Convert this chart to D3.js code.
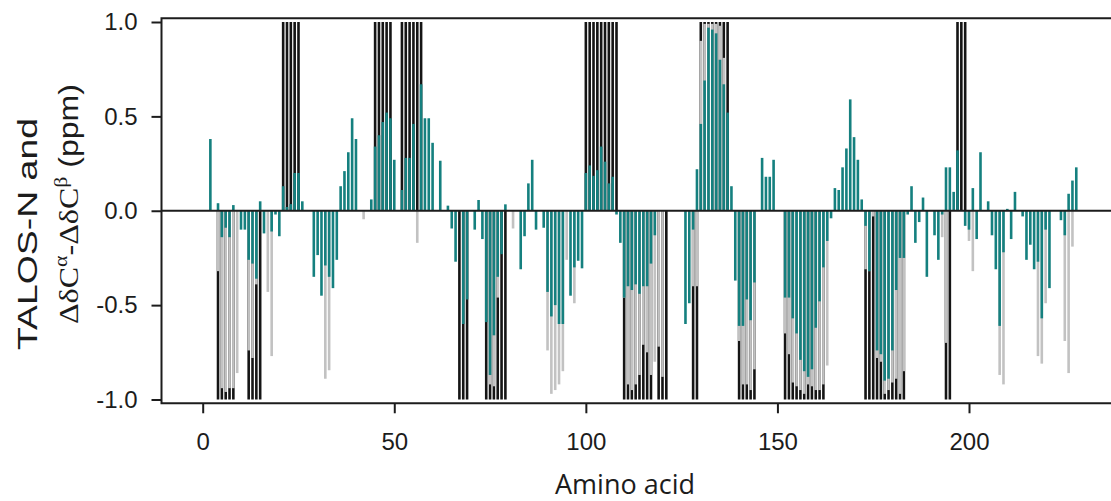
<!DOCTYPE html>
<html><head><meta charset="utf-8">
<script src="https://cdn.jsdelivr.net/npm/d3@7"></script>
<style>body{margin:0;background:#fff}</style>
</head><body><svg id="c" width="1111" height="501"></svg>
<script>
// tick labels
const xTicks = [0, 50, 100, 150, 200];
const yTicks = [1.0, 0.5, 0.0, -0.5, -1.0];

// TALOS-N secondary structure assignment (residue, +1 helix / -1 strand) -- black
const structure = [
 [4,-1],[5,-1],[6,-1],[7,-1],[8,-1],[12,-1],[13,-1],[14,-1],[15,-1],
 [21,1],[22,1],[23,1],[24,1],[25,1],
 [45,1],[46,1],[47,1],[48,1],[49,1],
 [52,1],[53,1],[54,1],[55,1],[56,1],[57,1],
 [67,-1],[68,-1],[69,-1],
 [74,-1],[75,-1],[76,-1],[77,-1],[78,-1],[79,-1],
 [100,1],[101,1],[102,1],[103,1],[104,1],[105,1],[106,1],[107,1],[108,1],
 [110,-1],[111,-1],[112,-1],[113,-1],[114,-1],[115,-1],[116,-1],[117,-1],
 [119,-1],[120,-1],[121,-1],
 [128,-1],[129,-1],
 [130,1],[131,1],[132,1],[133,1],[134,1],[135,1],[136,1],[137,1],
 [140,-1],[141,-1],[142,-1],[143,-1],[144,-1],
 [152,-1],[153,-1],[154,-1],[155,-1],[156,-1],[157,-1],[158,-1],[159,-1],[160,-1],[161,-1],[162,-1],
 [173,-1],[174,-1],[175,-1],[176,-1],[177,-1],[178,-1],[179,-1],[180,-1],[181,-1],[182,-1],[183,-1],
 [194,-1],[195,-1],
 [197,1],[198,1],[199,1]
];

// TALOS-N probability values -- light gray
const talosN = [
 [4,-0.32],[5,-0.94],[6,-0.96],[7,-0.94],[8,-0.94],[9,-0.86],[12,-0.74],[13,-0.78],[14,-0.39],
 [17,-0.43],[18,-0.77],[32,-0.89],[33,-0.845],[42,-0.045],[56,-0.17],
 [75,-0.92],[76,-0.93],[77,-0.46],[81,-0.094],
 [90,-0.74],[91,-0.97],[92,-0.95],[93,-0.92],[94,-0.85],[95,-0.26],[97,-0.49],
 [110,-0.46],[111,-0.92],[112,-0.95],[113,-0.92],[114,-0.87],[115,-0.71],[116,-0.75],[117,-0.87],
 [118,-0.80],[119,-0.72],[120,-0.88],[128,-0.40],[129,-0.40],
 [130,0.90],[131,0.99],[132,0.99],[133,0.99],[134,0.99],[135,0.98],[136,0.81],
 [140,-0.69],[141,-0.92],[142,-0.92],[143,-0.95],[144,-0.84],
 [152,-0.65],[153,-0.76],[154,-0.91],[155,-0.93],[156,-0.95],[157,-0.97],[158,-0.92],[159,-0.93],
 [160,-0.95],[161,-0.95],[162,-0.92],[163,-0.82],
 [173,-0.31],[174,-0.32],[175,-0.03],[176,-0.78],[177,-0.80],[178,-0.97],[179,-0.95],[180,-0.91],
 [181,-0.89],[182,-0.97],[183,-0.85],
 [193,-0.14],[194,-0.70],[200,-0.16],[201,-0.32],[208,-0.87],[209,-0.92],
 [218,-0.77],[219,-0.81],[220,-0.49],[225,-0.69],[226,-0.86],[227,-0.19]
];

// secondary chemical shift difference (ppm) -- teal
const shiftDiff = [
 [2,0.38],[4,0.04],[5,-0.14],[6,-0.09],[7,-0.14],[8,0.03],[10,-0.10],[11,-0.10],[12,-0.26],[13,-0.28],
 [14,-0.36],[15,0.05],[16,-0.12],[18,-0.11],[19,-0.02],[20,-0.135],[21,0.13],[22,0.02],[23,0.035],
 [24,0.20],[25,0.20],[26,0.05],[29,-0.35],[30,-0.235],[31,-0.45],[32,-0.29],[33,-0.35],[34,-0.41],
 [35,-0.26],[36,0.13],[37,0.21],[38,0.31],[39,0.49],[40,0.38],[44,0.06],[45,0.34],[46,0.40],[47,0.47],
 [48,0.52],[49,0.49],[50,0.27],[52,0.11],[53,0.28],[54,0.28],[55,0.46],[57,0.67],[58,0.49],[59,0.49],
 [60,0.36],[62,0.265],[64,0.027],[65,-0.094],[66,-0.27],[68,-0.60],[69,-0.47],[71,-0.10],[72,0.057],
 [73,-0.15],[74,-0.59],[75,-0.87],[76,-0.66],[77,-0.35],[78,-0.23],[79,0.034],[83,-0.31],[84,-0.135],
 [85,0.145],[86,0.27],[87,-0.10],[89,-0.09],[90,-0.43],[91,-0.56],[92,-0.50],[93,-0.60],[94,-0.60],
 [96,-0.45],[97,-0.30],[98,-0.265],[99,-0.305],[100,0.20],[101,0.24],[102,0.185],[103,0.215],[104,0.34],
 [105,0.26],[106,0.145],[107,0.18],[108,-0.02],[109,-0.17],[110,-0.46],[111,-0.40],[112,-0.42],
 [113,-0.39],[114,-0.44],[115,-0.40],[116,-0.40],[117,-0.28],[118,-0.13],[126,-0.60],[127,-0.49],
 [128,-0.10],[129,0.22],[130,0.46],[131,0.69],[132,0.97],[133,0.96],[134,0.94],[135,0.80],[136,0.67],
 [137,0.52],[138,0.13],[139,-0.37],[140,-0.61],[141,-0.61],[142,-0.47],[143,-0.58],[144,-0.38],
 [146,0.28],[147,0.18],[148,0.18],[149,0.27],[152,-0.46],[153,-0.46],[154,-0.57],[155,-0.65],
 [156,-0.79],[157,-0.85],[158,-0.88],[159,-0.84],[160,-0.62],[161,-0.48],[162,-0.30],[163,-0.16],
 [164,-0.04],[165,0.12],[166,0.11],[167,0.23],[168,0.33],[169,0.59],[170,0.39],[171,0.27],[172,0.06],
 [173,-0.08],[174,-0.32],[176,-0.74],[177,-0.76],[178,-0.90],[179,-0.89],[180,-0.74],[181,-0.42],
 [182,-0.25],[183,-0.25],[184,-0.02],[185,0.13],[186,-0.17],[187,-0.06],[188,0.07],[189,-0.35],
 [191,-0.13],[192,-0.26],[193,-0.02],[194,0.23],[195,0.23],[196,0.10],[197,0.32],[199,-0.08],
 [200,-0.10],[201,0.12],[202,-0.15],[203,0.31],[205,0.05],[206,-0.13],[207,-0.31],[208,-0.61],
 [209,-0.22],[210,0.01],[211,-0.15],[212,0.10],[214,-0.03],[215,-0.26],[216,-0.18],[217,-0.31],
 [218,-0.27],[219,-0.57],[220,-0.10],[221,-0.41],[224,-0.05],[225,-0.13],[226,0.09],[227,0.16],[228,0.23]
];

const svg = d3.select("#c");
const x = d3.scaleLinear().domain([0, 200]).range([202.7, 969]);
const y = d3.scaleLinear().domain([-1, 1]).range([399.5, 22]);
const frameLeft = 161.5, frameTop = y(1.02), frameBottom = y(-1.02);
const bw = 2.6;
const ink = "#1c1c1c";

function bars(data, color) {
  svg.append("g").selectAll("rect").data(data).join("rect")
    .attr("x", d => x(d[0]) - bw / 2)
    .attr("width", bw)
    .attr("y", d => Math.min(y(d[1]), y(0)))
    .attr("height", d => Math.abs(y(d[1]) - y(0)))
    .attr("fill", color);
}
bars(structure, "#151515");
bars(talosN, "#c2c2c2");
bars(shiftDiff, "#15807f");

// zero line
svg.append("line").attr("x1", frameLeft).attr("x2", 1115).attr("y1", y(0)).attr("y2", y(0))
  .attr("stroke", ink).attr("stroke-width", 2);

// frame (open on the right)
svg.append("path")
  .attr("d", `M1115,${frameTop}H${frameLeft}V${frameBottom}H1115`)
  .attr("fill", "none").attr("stroke", ink).attr("stroke-width", 2);

// axes
const yAxis = svg.append("g").attr("transform", `translate(${frameLeft},0)`)
  .call(d3.axisLeft(y).tickValues(yTicks).tickSize(10).tickPadding(14).tickFormat(d => d.toFixed(1)));
const xAxis = svg.append("g").attr("transform", `translate(0,${frameBottom})`)
  .call(d3.axisBottom(x).tickValues(xTicks).tickSize(10).tickPadding(20).tickFormat(d3.format("d")));
[yAxis, xAxis].forEach(a => {
  a.select(".domain").remove();
  a.selectAll(".tick line").attr("stroke", ink).attr("stroke-width", 2);
  a.selectAll(".tick text").attr("fill", ink)
    .style("font-family", "Liberation Sans, Arial, sans-serif").style("font-size", "24px");
});

// axis titles
svg.append("text")
  .attr("x", 625).attr("y", 494).attr("text-anchor", "middle")
  .style("font-family", "Open Sans, sans-serif").style("font-size", "27px").attr("fill", ink)
  .text("Amino acid");

svg.append("text")
  .attr("transform", "translate(37,234) rotate(-90)")
  .attr("text-anchor", "middle")
  .attr("textLength", 232).attr("lengthAdjust", "spacingAndGlyphs")
  .style("font-family", "Liberation Sans, Arial, sans-serif").style("font-size", "28px").attr("fill", ink)
  .text("TALOS-N and");

const yl2 = svg.append("text")
  .attr("transform", "translate(78,204) rotate(-90)")
  .attr("text-anchor", "middle")
  .attr("textLength", 240).attr("lengthAdjust", "spacingAndGlyphs")
  .style("font-size", "28px").attr("fill", ink);
const serif = "Liberation Serif, Times New Roman, serif";
yl2.append("tspan").style("font-family", serif).text("ΔδC");
yl2.append("tspan").style("font-family", serif).style("font-size", "19px").attr("dy", -11).text("α");
yl2.append("tspan").style("font-family", serif).attr("dy", 11).text("-ΔδC");
yl2.append("tspan").style("font-family", serif).style("font-size", "19px").attr("dy", -11).text("β");
yl2.append("tspan").style("font-family", "Liberation Sans, Arial, sans-serif").attr("dy", 11).text(" (ppm)");
</script>
</body></html>
